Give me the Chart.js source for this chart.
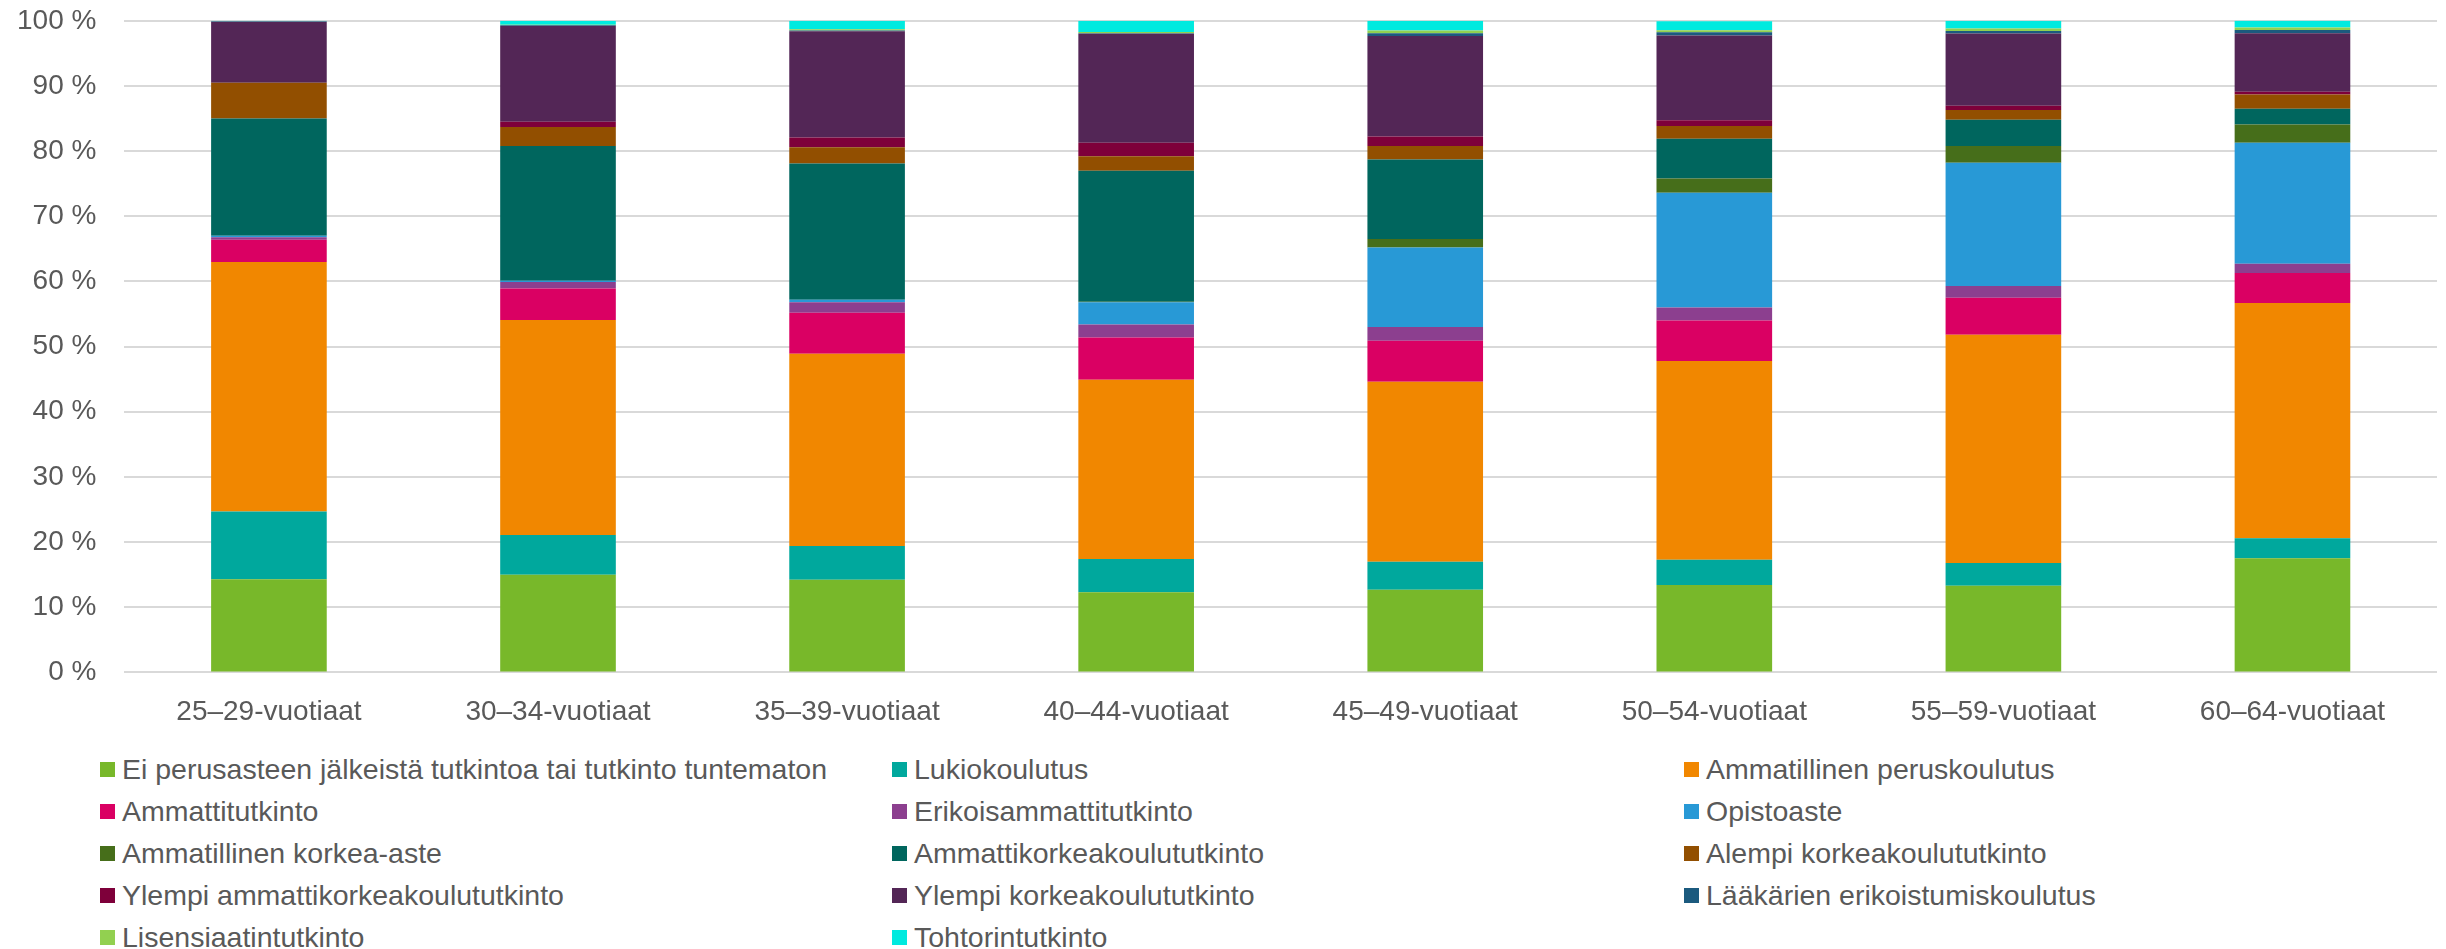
<!DOCTYPE html>
<html>
<head>
<meta charset="utf-8">
<script src="https://cdn.jsdelivr.net/npm/chart.js@4"></script>
<style>
    body { margin: 0; background: #ffffff; font-family: "Liberation Sans", Arial, sans-serif; overflow: hidden; }
    #wrap { position: absolute; left: 0; top: 0; width: 2446px; height: 949px; overflow: hidden; }
    #chart1 { position: absolute; left: -11px; top: -24px; }
    #legend {
        position: absolute; left: 100px; top: 748px;
        display: grid; grid-template-columns: 792px 792px 660px;
        grid-auto-rows: 42px;
        color: #595959; font-size: 28.5px;
    }
    .item { display: flex; align-items: center; white-space: nowrap; }
    .box { width: 15px; height: 15px; margin-right: 7px; flex: none; }
</style>
</head>
<body>
<div id="wrap">
    <canvas id="chart1" width="2457" height="768"></canvas>
    <div id="legend"></div>
</div>
<script>
var categories = ['25–29-vuotiaat', '30–34-vuotiaat', '35–39-vuotiaat', '40–44-vuotiaat',
    '45–49-vuotiaat', '50–54-vuotiaat', '55–59-vuotiaat', '60–64-vuotiaat'];

// shares in %, stacked from bottom to top
var eiPerusaste     = [14.3, 15.0, 14.2, 12.3, 12.7, 13.4, 13.3, 17.5];
var lukio           = [10.4, 6.1, 5.2, 5.1, 4.3, 3.9, 3.5, 3.1];
var ammPerus        = [38.3, 33.0, 29.5, 27.5, 27.6, 30.5, 35.0, 36.1];
var ammattitutkinto = [3.4, 4.8, 6.3, 6.5, 6.3, 6.2, 5.7, 4.6];
var erikoisamm      = [0.4, 1.0, 1.6, 2.0, 2.1, 2.0, 1.8, 1.4];
var opistoaste      = [0.2, 0.2, 0.4, 3.4, 12.2, 17.6, 18.9, 18.6];
var ammKorkeaAste   = [0.0, 0.0, 0.0, 0.1, 1.3, 2.2, 2.6, 2.8];
var amk             = [18.0, 20.7, 20.9, 20.1, 12.2, 6.1, 4.0, 2.4];
var alempiKK        = [5.5, 2.9, 2.5, 2.2, 2.1, 1.95, 1.5, 2.2];
var ylempiAmk       = [0.0, 0.8, 1.5, 2.1, 1.45, 0.9, 0.65, 0.4];
var ylempiKK        = [9.4, 14.7, 16.3, 16.7, 15.4, 13.0, 11.1, 9.0];
var laakarit        = [0.0, 0.1, 0.1, 0.1, 0.45, 0.5, 0.4, 0.5];
var lisensiaatti    = [0.0, 0.1, 0.2, 0.2, 0.4, 0.3, 0.36, 0.36];
var tohtori         = [0.1, 0.6, 1.3, 1.7, 1.5, 1.4, 1.2, 1.1];

var yTicks = [0, 10, 20, 30, 40, 50, 60, 70, 80, 90, 100];

var font = '"Liberation Sans", Arial, sans-serif';

function ds(label, data, color) {
    return { label: label, data: data, backgroundColor: color, borderWidth: 0 };
}

document.addEventListener("DOMContentLoaded", function() {
    var ctx1 = document.getElementById('chart1').getContext('2d');
    var chart1 = new Chart(ctx1, {
        type: 'bar',
        data: {
            labels: categories,
            datasets: [
                ds('Ei perusasteen jälkeistä tutkintoa tai tutkinto tuntematon', eiPerusaste, '#78b82a'),
                ds('Lukiokoulutus', lukio, '#00a89d'),
                ds('Ammatillinen peruskoulutus', ammPerus, '#f18700'),
                ds('Ammattitutkinto', ammattitutkinto, '#da0063'),
                ds('Erikoisammattitutkinto', erikoisamm, '#8c3f8f'),
                ds('Opistoaste', opistoaste, '#2899d6'),
                ds('Ammatillinen korkea-aste', ammKorkeaAste, '#466e1a'),
                ds('Ammattikorkeakoulututkinto', amk, '#00665e'),
                ds('Alempi korkeakoulututkinto', alempiKK, '#924f00'),
                ds('Ylempi ammattikorkeakoulututkinto', ylempiAmk, '#7e003a'),
                ds('Ylempi korkeakoulututkinto', ylempiKK, '#532656'),
                ds('Lääkärien erikoistumiskoulutus', laakarit, '#1b5a7e'),
                ds('Lisensiaatintutkinto', lisensiaatti, '#92d050'),
                ds('Tohtorintutkinto', tohtori, '#00eadf')
            ]
        },
        options: {
            responsive: false,
            animation: false,
            layout: { padding: { left: 0, right: 9, top: 4, bottom: 0 } },
            datasets: { bar: { categoryPercentage: 1, barPercentage: 0.4 } },
            plugins: {
                legend: { display: false },
                tooltip: { enabled: false }
            },
            scales: {
                x: {
                    stacked: true,
                    grid: { display: false },
                    border: { display: false },
                    ticks: { color: '#595959', padding: 15, font: { family: font, size: 28 } }
                },
                y: {
                    stacked: true,
                    min: 0,
                    max: 100,
                    afterBuildTicks: function(axis) {
                        axis.ticks = yTicks.map(function(v) { return { value: v }; });
                    },
                    grid: { color: '#d9d9d9', lineWidth: 2, drawTicks: false },
                    border: { display: false },
                    ticks: {
                        color: '#595959',
                        padding: 28,
                        font: { family: font, size: 28 },
                        callback: function(value) {
                            return value + ' %';
                        }
                    }
                }
            }
        }
    });

    // legend in three columns, like the original
    var legend = document.getElementById('legend');
    chart1.data.datasets.forEach(function(d) {
        var item = document.createElement('div');
        item.className = 'item';
        var box = document.createElement('span');
        box.className = 'box';
        box.style.background = d.backgroundColor;
        var txt = document.createElement('span');
        txt.textContent = d.label;
        item.appendChild(box);
        item.appendChild(txt);
        legend.appendChild(item);
    });
});
</script>
</body>
</html>
